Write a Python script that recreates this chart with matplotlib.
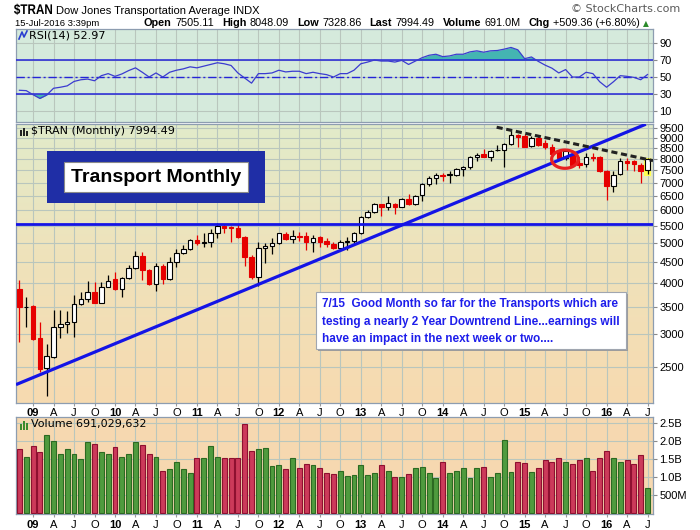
import numpy as np
import matplotlib
matplotlib.use('Agg')
import matplotlib.pyplot as plt
from matplotlib.patches import Rectangle, PathPatch
from matplotlib.ticker import FixedLocator, NullLocator, FixedFormatter
from matplotlib.textpath import TextPath
from matplotlib.font_manager import FontProperties
from matplotlib.transforms import Affine2D

W, H = 700, 530
plt.rcParams['font.family'] = ['Liberation Sans', 'DejaVu Sans']

# ---------------- data (monthly, Nov 2008 .. Jul 2016) ----------------
opens = [3860, 3490, 3515, 2935, 2485, 2650, 3120, 3180, 3215, 3555,
         3650, 3790, 3580, 3900, 4080, 3860, 4100, 4340, 4650, 4300,
         3970, 4395, 4080, 4490, 4720, 4830, 5080, 4990, 5035, 5270,
         5500, 5460, 5430, 5180, 4630, 4140, 4860, 4920, 4990, 5250,
         5100, 5200, 5195, 5035, 5160, 5050, 4965, 4860, 5035, 5065,
         5270, 5770, 5950, 6200, 6120, 6215, 6120, 6405, 6200, 6535,
         6935, 7185, 7305, 7300, 7307, 7545, 7625, 8065, 8210, 8095,
         8380, 8400, 8700, 9140, 9100, 8600, 8970, 8720, 8530, 8330,
         8020, 8170, 7830, 7780, 8095, 8095, 7480, 6850, 7350, 7880,
         7880, 7727, 7505.11]
highs = [4065, 3700, 3535, 3220, 2840, 3440, 3440, 3425, 3740, 3790,
         4040, 4030, 4030, 4180, 4240, 4140, 4420, 4790, 4760, 4310,
         4470, 4450, 4630, 4830, 4940, 5100, 5225, 5290, 5390, 5580,
         5565, 5500, 5560, 5195, 4675, 5035, 4990, 5130, 5290, 5320,
         5375, 5320, 5320, 5225, 5195, 5130, 5035, 5080, 5180, 5320,
         5820, 6010, 6240, 6200, 6480, 6260, 6440, 6560, 6535, 7000,
         7245, 7370, 7390, 7480, 7585, 7700, 8130, 8250, 8440, 8400,
         8640, 8730, 9395, 9185, 9185, 9060, 9100, 8870, 8680, 8400,
         8400, 8400, 7960, 8250, 8250, 8130, 7520, 7480, 8020, 8020,
         7960, 7810, 8048.09]
lows = [2880, 3130, 2907, 2435, 2125, 2625, 2945, 3020, 2960, 3535,
        3600, 3570, 3570, 3900, 3845, 3700, 4080, 4310, 4065, 3955,
        3830, 3975, 4065, 4380, 4700, 4805, 4940, 4895, 4880, 5130,
        5270, 5020, 5130, 4395, 4080, 3930, 4480, 4700, 4965, 5080,
        4990, 5065, 4805, 4760, 4895, 4880, 4830, 4805, 4805, 5010,
        5250, 5735, 5900, 5820, 6010, 5880, 6100, 6180, 6180, 6330,
        6870, 6945, 7080, 6975, 7265, 7250, 7545, 7880, 8065, 7880,
        8330, 7625, 8640, 8560, 8530, 8560, 8580, 8440, 8170, 7960,
        7960, 7625, 7585, 7655, 7880, 7440, 6355, 6630, 7307, 7515,
        7480, 6975, 7328.86]
closes = [3490, 3500, 2920, 2470, 2660, 3120, 3175, 3220, 3555, 3650,
          3790, 3580, 3900, 4050, 3860, 4100, 4340, 4650, 4300, 3975,
          4395, 4090, 4490, 4720, 4830, 5080, 4990, 5035, 5270, 5500,
          5430, 5420, 5160, 4630, 4140, 4860, 4920, 4990, 5270, 5100,
          5200, 5180, 5035, 5150, 5035, 4960, 4860, 5035, 5065, 5270,
          5770, 5950, 6200, 6120, 6240, 6120, 6405, 6200, 6510, 6935,
          7185, 7305, 7245, 7330, 7545, 7625, 8065, 8170, 8095, 8360,
          8400, 8700, 9140, 9050, 8560, 8970, 8640, 8530, 8210, 8020,
          8330, 7730, 7730, 8065, 8050, 7480, 6850, 7307, 7880, 7800,
          7770, 7450, 7994.49]
volume_b = [1.77, 1.55, 1.85, 1.68, 2.18, 2.01, 1.63, 1.77, 1.65, 1.49,
            1.98, 1.91, 1.68, 1.65, 1.82, 1.55, 1.63, 1.96, 1.90, 1.65,
            1.55, 1.17, 1.22, 1.42, 1.22, 1.11, 1.53, 1.53, 1.86, 1.56,
            1.53, 1.53, 1.53, 2.46, 1.72, 1.78, 1.80, 1.31, 1.33, 1.22,
            1.53, 1.25, 1.36, 1.33, 1.25, 1.11, 1.08, 1.17, 1.03, 1.06,
            1.33, 1.06, 1.11, 1.33, 1.17, 1.00, 1.00, 1.08, 1.25, 1.27,
            1.11, 0.97, 1.41, 1.11, 1.16, 1.25, 0.97, 1.25, 1.27, 1.00,
            1.11, 2.03, 1.14, 1.41, 1.39, 1.14, 1.25, 1.47, 1.41, 1.53,
            1.42, 1.36, 1.47, 1.53, 1.17, 1.53, 1.71, 1.53, 1.42, 1.47,
            1.36, 1.61, 0.691029632]
rsi14 = [34.4, 34.0, 29.2, 24.8, 28.8, 36.8, 38.0, 39.6, 44.8, 46.8,
         47.6, 45.6, 51.6, 54.0, 50.8, 53.6, 57.6, 60.8, 55.6, 50.0,
         54.8, 50.0, 55.6, 58.0, 59.6, 62.0, 60.8, 62.8, 64.8, 66.8,
         65.6, 63.6, 54.8, 48.8, 42.8, 54.0, 54.0, 54.8, 58.0, 56.0,
         56.8, 56.8, 54.0, 55.6, 54.0, 52.8, 50.0, 54.0, 54.0, 58.0,
         65.6, 67.6, 70.0, 68.8, 68.8, 67.6, 69.6, 64.8, 68.8, 72.8,
         75.6, 76.8, 74.0, 74.8, 76.8, 76.8, 79.6, 80.8, 79.2, 80.8,
         81.2, 82.8, 84.8, 82.0, 71.6, 73.6, 68.4, 64.0, 60.4, 54.8,
         58.8, 50.0, 50.0, 55.6, 54.0, 44.4, 38.0, 44.4, 51.6, 50.8,
         49.6, 46.8, 52.97]
tick_labels = ['09', 'A', 'J', 'O', '10', 'A', 'J', 'O', '11', 'A', 'J', 'O',
               '12', 'A', 'J', 'O', '13', 'A', 'J', 'O', '14', 'A', 'J', 'O',
               '15', 'A', 'J', 'O', '16', 'A', 'J']
tick_month_idx = list(range(2, 93, 3))
price_ticks = [2500, 3000, 3500, 4000, 4500, 5000, 5500, 6000, 6500, 7000,
               7500, 8000, 8500, 9000, 9500]
rsi_ticks = [10, 30, 50, 70, 90]
vol_ticks = [0.5, 1.0, 1.5, 2.0, 2.5]
vol_tick_labels = ['500M', '1.0B', '1.5B', '2.0B', '2.5B']
support_level = 5557
up_trend_idx = [-0.5, 91.75]
up_trend_px = [2266, 9698]
down_trend_idx = [69.9, 92.8]
down_trend_px = [9537, 7914]
circle_idx, circle_px = 79.9, 7979
last_volume = 691029632
change = 509.36
change_pct = 6.80

# ---------------- figure ----------------
fig = plt.figure(figsize=(7, 5.3), dpi=100, facecolor='white')
renderer = fig.canvas.get_renderer()


def rect_px(x0, y0, x1, y1):
    return [x0 / W, 1 - y1 / H, (x1 - x0) / W, (y1 - y0) / H]


XL = (-0.5, 92.8)
idx = np.arange(len(closes))
o = np.array(opens, float); c = np.array(closes, float)
h = np.array(highs, float); l = np.array(lows, float)
up = c >= o
GRID = '#b9c6bd'
SPINE = '#8d9db0'
BLUE = '#1414e6'


def style(ax):
    for s in ax.spines.values():
        s.set_color(SPINE); s.set_linewidth(0.9)
    ax.set_xlim(*XL)
    ax.yaxis.tick_right()
    ax.tick_params(axis='y', which='both', length=3, pad=1.5, labelsize=8,
                   color='#8a8a8a', right=True, left=False)
    ax.xaxis.set_major_locator(FixedLocator(tick_month_idx))
    ax.tick_params(axis='x', length=2, color='#9a9a9a')
    ax.grid(True, color=GRID, lw=0.8)
    ax.set_axisbelow(True)


# ---- RSI panel ----
ax_r = fig.add_axes(rect_px(16, 29, 653, 122))
ax_r.set_facecolor('#d5eadc')
style(ax_r)
ax_r.set_ylim(-2.9, 106.5)
ax_r.yaxis.set_major_locator(FixedLocator(rsi_ticks))
ax_r.set_xticklabels([])
ax_r.tick_params(axis='x', length=0)
rs = np.array(rsi14)
ax_r.fill_between(idx, rs, 70, where=rs > 70, interpolate=True, color='#44b5b2', lw=0, zorder=2)
ax_r.fill_between(idx, rs, 30, where=rs < 30, interpolate=True, color='#44b5b2', lw=0, zorder=2)
ax_r.axhline(70, color='#2424d8', lw=1.1, zorder=3)
ax_r.axhline(30, color='#2424d8', lw=1.1, zorder=3)
ax_r.axhline(50, color='#2424d8', lw=1.0, ls=(0, (6, 2, 1.5, 2)), zorder=3)
ax_r.plot(idx, rs, color='#3b3bd0', lw=0.9, zorder=4)

# ---- price panel ----
rm = rect_px(16, 124, 653, 403)
ax_bg = fig.add_axes(rm, zorder=0)
grad = np.array([[0.885, 0.922, 0.792], [0.935, 0.890, 0.735], [0.968, 0.855, 0.690]])
ys = np.linspace(0, 1, 200)
col = np.stack([np.interp(ys, [0, 0.45, 1], grad[:, k]) for k in range(3)], axis=1)
ax_bg.imshow(col[:, None, :], aspect='auto', extent=[0, 1, 0, 1], origin='upper')
ax_bg.axis('off')

ax = fig.add_axes(rm, zorder=1)
ax.patch.set_alpha(0)
ax.set_yscale('log')
style(ax)
ax.set_ylim(2045, 9710)
ax.yaxis.set_major_locator(FixedLocator(price_ticks))
ax.yaxis.set_major_formatter(FixedFormatter([str(v) for v in price_ticks]))
ax.yaxis.set_minor_locator(NullLocator())
ax.set_xticklabels(tick_labels, fontsize=8)
ax.tick_params(axis='x', pad=1.5)

# last-candle highlight
ax.bar(idx[-1], c[-1] * 1.004 - l[-1] * 0.99, bottom=l[-1] * 0.99, width=1.15,
       color='#ffff50', lw=0, zorder=2.5)
wick_col = np.where(up, 'black', '#e60000')
ax.vlines(idx, l, h, colors=wick_col, lw=0.9, zorder=3)
body_b = np.minimum(o, c)
body_h = np.maximum(np.abs(c - o), c * 0.0025)
ax.bar(idx, body_h, bottom=body_b, width=0.66,
       color=np.where(up, 'white', '#e60000'), edgecolor=wick_col, lw=0.8, zorder=4)

ax.axhline(support_level, color=BLUE, lw=2.0, zorder=5)
ax.plot(up_trend_idx, up_trend_px, color=BLUE, lw=2.3, zorder=5, solid_capstyle='butt')
ax.plot(down_trend_idx, down_trend_px, color='#222222', lw=2.2, ls=(0, (2.0, 1.2)), zorder=5)
t = np.linspace(0, 2 * np.pi, 120)
ax.plot(circle_idx + 1.95 * np.cos(t), circle_px * np.exp(0.051 * np.sin(t)),
        color='#e82020', lw=2.3, zorder=6)

# "Transport Monthly" box  (axes fraction of price panel)
ax.add_patch(Rectangle((0.0491, 0.7179), 0.3418, 0.1853, transform=ax.transAxes,
                       facecolor='#1f2ea6', edgecolor='none', zorder=7))
ax.add_patch(Rectangle((0.0758, 0.7552), 0.2889, 0.1075, transform=ax.transAxes,
                       facecolor='white', edgecolor='#8a8a8a', lw=0.8, zorder=8))
ax.text(0.2203, 0.809, 'Transport Monthly', transform=ax.transAxes, ha='center',
        va='center', fontsize=14, fontweight='bold', color='black', zorder=9)

# note box
ax.add_patch(Rectangle((0.4745, 0.1865), 0.4866, 0.2043, transform=ax.transAxes,
                       facecolor='#9c9c9c', edgecolor='none', zorder=7))
ax.add_patch(Rectangle((0.4710, 0.1935), 0.4866, 0.2043, transform=ax.transAxes,
                       facecolor='white', edgecolor='#a0a6b0', lw=0.8, zorder=8))
note = ['7/15  Good Month so far for the Transports which are',
        'testing a nearly 2 Year Downtrend Line...earnings will',
        'have an impact in the next week or two....']
for line, yy in zip(note, [0.3538, 0.2914, 0.2294]):
    ax.text(0.4804, yy, line, transform=ax.transAxes, ha='left', va='center',
            fontsize=8.5, fontweight='bold', color='#1e1eeb', zorder=9)

# ---- volume panel ----
ax_v = fig.add_axes(rect_px(16, 417, 653, 514))
ax_v.set_facecolor('#f6d8b0')
style(ax_v)
ax_v.set_ylim(-0.03, 2.667)
ax_v.yaxis.set_major_locator(FixedLocator(vol_ticks))
ax_v.yaxis.set_major_formatter(FixedFormatter(vol_tick_labels))
ax_v.set_xticklabels(tick_labels, fontsize=8)
ax_v.tick_params(axis='x', pad=2)
ax_v.bar(idx, volume_b, width=0.72, color=np.where(up, '#4f9b3e', '#cc3a5a'),
         edgecolor=np.where(up, '#2c6a22', '#8e1030'), lw=0.8, zorder=3)

for a in (ax, ax_v):
    for lbl, s in zip(a.get_xticklabels(), tick_labels):
        if s.isdigit():
            lbl.set_fontweight('bold')

# ---------------- header texts ----------------
def fig_text(x, y, s, size, width=None, **kw):
    tx = fig.text(x / W, 1 - y / H, s, fontsize=size, **kw)
    if width:
        bb = tx.get_window_extent(renderer=renderer)
        tx.set_fontsize(size * width / bb.width)
    return tx

# condensed bold symbol
tp = TextPath((0, 0), '$TRAN', size=14.0, prop=FontProperties(family='Liberation Sans', weight='bold'))
tb = tp.get_extents()
sx = 38.0 / tb.width
fig.patches.append(PathPatch(tp, transform=Affine2D().scale(sx, 1.0).translate(14 - tb.x0 * sx, H - 14.0),
                             facecolor='black', edgecolor='none'))
fig_text(56, 14.0, 'Dow Jones Transportation Average INDX', 8, width=205, va='baseline')
fig_text(571, 12.5, '\u00a9 StockCharts.com', 8, width=109, color='#5a5a5a',
         family='DejaVu Sans', va='baseline')
fig_text(15, 26.5, '15-Jul-2016 3:39pm', 8, width=85, va='baseline')

items = [('Open', 'bold', 1), (f'{opens[-1]:.2f}', 'normal', 2.5),
         ('High', 'bold', 1), (f'{highs[-1]:.2f}', 'normal', 2.5),
         ('Low', 'bold', 1), (f'{lows[-1]:.2f}', 'normal', 2.5),
         ('Last', 'bold', 1), (f'{closes[-1]:.2f}', 'normal', 2.5),
         ('Volume', 'bold', 1), (f'{last_volume / 1e6:.1f}M', 'normal', 2.5),
         ('Chg', 'bold', 1), (f'+{change:.2f} (+{change_pct:.2f}%)', 'normal', 0)]


def seq(x0, yb, size):
    x = x0; made = []
    for s, wgt, gap in items:
        tx = fig.text(x / W, 1 - yb / H, s, fontsize=size, fontweight=wgt, va='baseline')
        made.append(tx)
        x += tx.get_window_extent(renderer=renderer).width + gap * size * 100 / 72 * 0.3
    return x, made

x0_line = 144
end, made = seq(x0_line, 26.5, 8)
for m in made:
    m.remove()
size2 = 8 * (642 - x0_line) / (end - x0_line)
end, made = seq(x0_line, 26.5, size2)
fig.text((end + 3) / W, 1 - 26 / H, '\u25b2', fontsize=5.5, color='#2a8a2a',
         family='DejaVu Sans', va='baseline')

# panel labels
fig.text(29 / W, 1 - 35.5 / H, 'RSI(14) 52.97', fontsize=8, family='DejaVu Sans', va='center')
fig.text(31 / W, 1 - 131.5 / H, f'$TRAN (Monthly) {closes[-1]:.2f}', fontsize=8,
         family='DejaVu Sans', va='center')
fig.text(31 / W, 1 - 424.5 / H, f'Volume {last_volume:,}', fontsize=8,
         family='DejaVu Sans', va='center')

# small panel icons
for (x0, y0, hh) in [(20, 430, 6), (23, 430, 9), (26, 430, 7)]:
    fig.patches.append(Rectangle((x0 / W, 1 - y0 / H), 2 / W, hh / H, transform=fig.transFigure,
                                 facecolor='#3d8a2e', edgecolor='none'))
for (x0, y0, hh) in [(20, 136, 6), (23, 136, 8), (26, 136, 5)]:
    fig.patches.append(Rectangle((x0 / W, 1 - y0 / H), 2 / W, hh / H, transform=fig.transFigure,
                                 facecolor='#222222', edgecolor='none'))
fig.lines.append(plt.Line2D([19 / W, 22 / W, 24 / W, 27 / W],
                            [1 - 39 / H, 1 - 32 / H, 1 - 37 / H, 1 - 31 / H],
                            transform=fig.transFigure, color='#2a3fd0', lw=1.2))

fig.savefig('out.png', dpi=100, facecolor='white')
